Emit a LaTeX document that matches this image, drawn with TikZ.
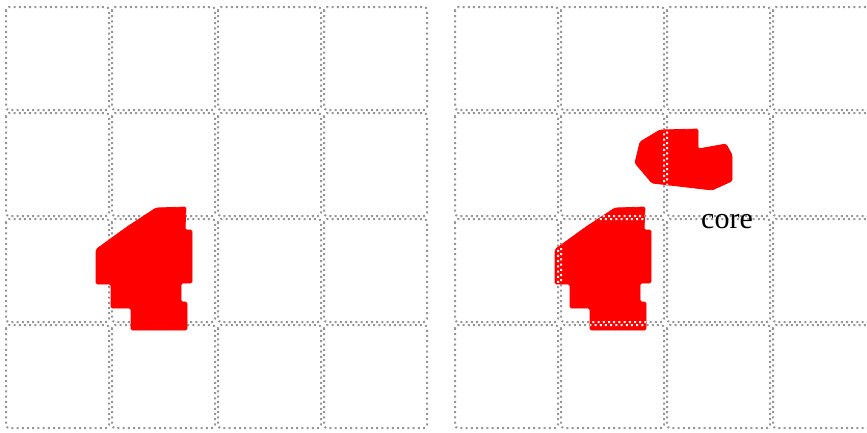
\documentclass[tikz,border=0pt]{standalone}
\usepackage{fontspec}
\setmainfont{Liberation Serif}
\definecolor{gridgray}{RGB}{150,150,150}
\definecolor{blobred}{RGB}{255,0,0}
\tikzset{
  cellbox/.style={line width=2pt, dash pattern=on 2pt off 3.2pt, rounded corners=3pt},
  graycell/.style={cellbox, draw=gridgray},
  whitecell/.style={cellbox, draw=white},
  blob/.style={fill=blobred, draw=blobred, line width=0.8pt, rounded corners=1.5pt},
  lbl/.style={font=\fontsize{30}{36}\selectfont, inner sep=0pt, anchor=base}
}
\begin{document}
\begin{tikzpicture}[x=1pt,y=-1pt]
\useasboundingbox (0,0) rectangle (867,432);
\clip (0,0) rectangle (867,432);
% grids
\foreach \gx in {6,455}{
  \foreach \i in {0,...,3}{
    \foreach \j in {0,...,3}{
      \draw[graycell] ({\gx+106*\i},{7+106*\j}) rectangle ++(103,103);
    }
  }
}
% left shape
\def\shapeA{(156,208) -- (186,207) -- (185,230) -- (192,230) -- (192,283) -- (181,283) -- (181,302) -- (187,302) -- (187,330) -- (131,330) -- (131,308) -- (111,308) -- (111,284) -- (96,284) -- (96,250) -- (98,248) -- (127,227) -- cycle}
\fill[blob] \shapeA;
% right shapes
\def\shapeB{[shift={(459,0)}] (156,208) -- (186,207) -- (185,230) -- (192,230) -- (192,283) -- (181,283) -- (181,302) -- (187,302) -- (187,330) -- (131,330) -- (131,308) -- (111,308) -- (111,284) -- (96,284) -- (96,250) -- (98,248) -- (127,227) -- cycle}
\def\shapeC{(635,163) -- (640,142) -- (660,130) -- (698,129) -- (698,149) -- (726,144) -- (732,155) -- (732,181) -- (712,190) -- (652,183) -- cycle}
\fill[blob] \shapeB;
\fill[blob] \shapeC;
\begin{scope}
  \clip [shift={(459,0)}] (156,208) -- (186,207) -- (185,230) -- (192,230) -- (192,283) -- (181,283) -- (181,302) -- (187,302) -- (187,330) -- (131,330) -- (131,308) -- (111,308) -- (111,284) -- (96,284) -- (96,250) -- (98,248) -- (127,227) -- cycle;
  \foreach \i in {0,...,3}{
    \foreach \j in {0,...,3}{
      \draw[whitecell] ({455+106*\i},{7+106*\j}) rectangle ++(103,103);
    }
  }
\end{scope}
\begin{scope}
  \clip \shapeC;
  \foreach \i in {0,...,3}{
    \foreach \j in {0,...,3}{
      \draw[whitecell] ({455+106*\i},{7+106*\j}) rectangle ++(103,103);
    }
  }
\end{scope}
\node[lbl] (core) at (727,228) {core};
\end{tikzpicture}
\end{document}
